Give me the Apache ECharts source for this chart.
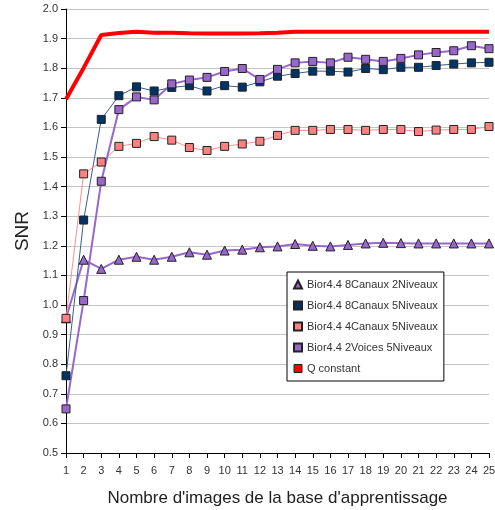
<!DOCTYPE html>
<html>
<head>
<meta charset="utf-8">
<script src="https://cdn.jsdelivr.net/npm/echarts@6/dist/echarts.min.js"></script>
<style>
  html, body { margin: 0; padding: 0; background: #fff; }
  #snrChart { width: 495px; height: 510px; }
</style>
</head>
<body>
<div id="snrChart"></div>
<script>
// SNR selon le nombre d'images

var categories = ['1', '2', '3', '4', '5', '6', '7', '8', '9', '10', '11', '12', '13',
    '14', '15', '16', '17', '18', '19', '20', '21', '22', '23', '24', '25'];

var yTicks = [0.5, 0.6, 0.7, 0.8, 0.9, 1.0, 1.1, 1.2, 1.3, 1.4, 1.5, 1.6, 1.7, 1.8, 1.9, 2.0];

var canaux8niv2 = [0.955, 1.153, 1.122, 1.153, 1.163, 1.153, 1.163, 1.178, 1.170, 1.184, 1.187, 1.195, 1.198,
    1.206, 1.200, 1.198, 1.203, 1.208, 1.210, 1.209, 1.208, 1.208, 1.208, 1.208, 1.208];

var canaux8niv5 = [0.761, 1.287, 1.627, 1.707, 1.737, 1.723, 1.735, 1.741, 1.723, 1.741, 1.736, 1.754, 1.773,
    1.782, 1.790, 1.790, 1.787, 1.799, 1.795, 1.803, 1.803, 1.809, 1.814, 1.818, 1.820];

var canaux4niv5 = [0.955, 1.443, 1.483, 1.536, 1.546, 1.569, 1.557, 1.532, 1.522, 1.536, 1.544, 1.553, 1.573,
    1.590, 1.590, 1.593, 1.593, 1.590, 1.593, 1.593, 1.586, 1.591, 1.593, 1.593, 1.603];

var voices2niv5 = [0.649, 1.015, 1.418, 1.660, 1.703, 1.693, 1.747, 1.760, 1.769, 1.789, 1.799, 1.762, 1.796,
    1.818, 1.823, 1.818, 1.837, 1.830, 1.823, 1.833, 1.845, 1.853, 1.859, 1.876, 1.866];

var qConstant = [1.695, 1.801, 1.912, 1.919, 1.923, 1.920, 1.920, 1.918, 1.917, 1.917, 1.917, 1.918, 1.920,
    1.923, 1.923, 1.923, 1.923, 1.923, 1.923, 1.923, 1.923, 1.923, 1.923, 1.923, 1.923];

var seriesNames = ['Bior4.4 8Canaux 2Niveaux', 'Bior4.4 8Canaux 5Niveaux', 'Bior4.4 4Canaux 5Niveaux',
    'Bior4.4 2Voices 5Niveaux', 'Q constant'];

var font = 'Liberation Sans, Arial, sans-serif';

function markerLine(name, data, color, lineColor, width, symbol) {
    return {
        name: name,
        type: 'line',
        data: data,
        symbol: symbol,
        symbolSize: symbol === 'triangle' ? 9 : 8,
        lineStyle: { color: lineColor, width: width },
        itemStyle: { color: color, borderColor: '#222', borderWidth: 1 },
        emphasis: { disabled: true },
        animation: false
    };
}

document.addEventListener('DOMContentLoaded', () => {
    echarts.init(document.querySelector('#snrChart')).setOption({
        backgroundColor: '#fff',
        textStyle: { fontFamily: font },
        grid: { left: 66, right: 6, top: 9, bottom: 57, containLabel: false, outerBoundsMode: 'none' },
        legend: {
            orient: 'vertical',
            left: 287,
            top: 272,
            width: 155,
            padding: [7, 6, 7, 6],
            itemGap: 10,
            itemWidth: 8,
            itemHeight: 8,
            borderColor: '#000',
            borderWidth: 1,
            backgroundColor: '#fff',
            textStyle: { fontFamily: font, fontSize: 11, color: '#333' },
            data: [
                { name: seriesNames[0], icon: 'triangle' },
                { name: seriesNames[1], icon: 'rect' },
                { name: seriesNames[2], icon: 'rect' },
                { name: seriesNames[3], icon: 'rect' },
                { name: seriesNames[4], icon: 'rect', itemStyle: { color: '#ff0000', borderColor: '#222', borderWidth: 1 } }
            ]
        },
        xAxis: {
            type: 'category',
            data: categories,
            boundaryGap: false,
            name: "Nombre d'images de la base d'apprentissage",
            nameLocation: 'middle',
            nameGap: 37,
            nameTextStyle: { fontFamily: font, fontSize: 17, color: '#222' },
            axisLine: { lineStyle: { color: '#000', width: 1 } },
            axisTick: { alignWithLabel: true, length: 5, lineStyle: { color: '#000' } },
            axisLabel: { fontSize: 11, color: '#333', margin: 12 },
            splitLine: { show: false }
        },
        yAxis: {
            type: 'value',
            min: yTicks[0],
            max: yTicks[yTicks.length - 1],
            interval: 0.1,
            name: 'SNR',
            nameLocation: 'middle',
            nameGap: 31,
            nameRotate: 90,
            nameTextStyle: { fontFamily: font, fontSize: 19, color: '#222' },
            axisLine: { show: true, lineStyle: { color: '#000', width: 1 } },
            axisTick: { show: true, length: 5, lineStyle: { color: '#000' } },
            axisLabel: { fontSize: 11, color: '#333', margin: 8, formatter: v => v.toFixed(1) },
            splitLine: { lineStyle: { color: '#c4c4c4', width: 1 } }
        },
        series: [
            markerLine(seriesNames[0], canaux8niv2, '#9966cc', '#9966cc', 2, 'triangle'),
            markerLine(seriesNames[1], canaux8niv5, '#003366', '#35608a', 1, 'rect'),
            markerLine(seriesNames[2], canaux4niv5, '#ff8080', '#ff8f8f', 1, 'rect'),
            markerLine(seriesNames[3], voices2niv5, '#9966cc', '#9966cc', 2, 'rect'),
            {
                name: seriesNames[4],
                type: 'line',
                data: qConstant,
                symbol: 'none',
                lineStyle: { color: '#ff0000', width: 4 },
                itemStyle: { color: '#ff0000' },
                emphasis: { disabled: true },
                animation: false
            }
        ]
    });
});
</script>
</body>
</html>
